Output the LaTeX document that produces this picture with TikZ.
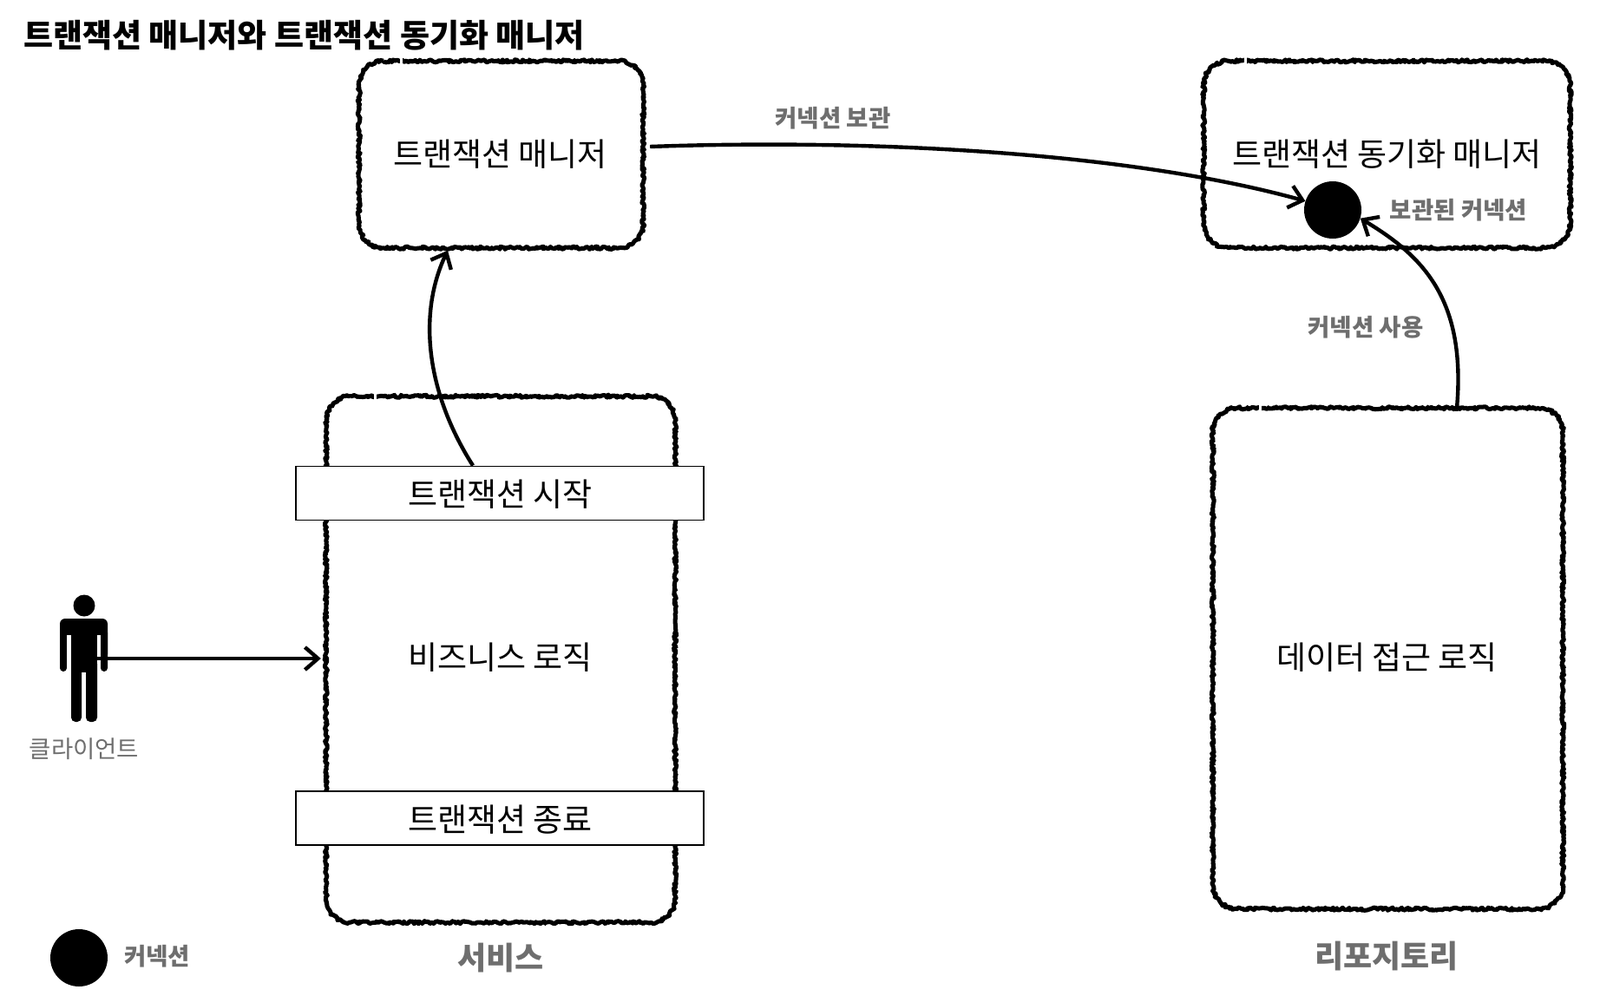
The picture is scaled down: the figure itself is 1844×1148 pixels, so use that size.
\documentclass[tikz,border=0pt]{standalone}
\usepackage{fontspec}
\setmainfont{Noto Sans CJK KR}
\usetikzlibrary{arrows.meta,decorations.pathmorphing}
\definecolor{lbl}{HTML}{6E6E6E}
\tikzset{
  slot/.style={inner sep=0pt},
  rough/.style={line width=2.6pt,draw=black,line join=round,
    decorate,decoration={random steps,segment length=1.8pt,amplitude=1.6pt},
    preaction={draw=black,line width=5pt,line join=round}},
  bigtext/.style={font=\fontsize{37}{40}\selectfont,text=black,inner sep=0pt},
  small/.style={font=\fontsize{27.5}{32}\selectfont\bfseries,text=lbl,inner sep=0pt},
  head/.style={font=\fontsize{36}{40}\selectfont\bfseries,text=lbl,inner sep=0pt},
  band/.style={draw=black,fill=white,line width=1.8pt,minimum width=470pt,minimum height=62pt,inner sep=0pt},
  conn/.style={circle,fill=black,minimum size=66pt,inner sep=0pt},
  link/.style={line width=4.4pt,-{Straight Barb[length=15pt,width=26pt,line width=4.4pt]}},
  nick/.style={fill=white,minimum width=3pt,minimum height=11pt,inner sep=0pt},
}
\newcommand{\roughbox}[1]{%
  \draw[rough] ([xshift=28pt]#1.north west) -- ([xshift=-28pt]#1.north east)
    arc[start angle=90,end angle=0,radius=28pt] -- ([yshift=28pt]#1.south east)
    arc[start angle=0,end angle=-90,radius=28pt] -- ([xshift=28pt]#1.south west)
    arc[start angle=-90,end angle=-180,radius=28pt] -- ([yshift=-28pt]#1.north west)
    arc[start angle=180,end angle=90,radius=28pt] -- cycle;}
\begin{document}
\begin{tikzpicture}[x=1pt,y=-1pt]
\useasboundingbox (0,0) rectangle (1844,1148);
\node[anchor=west,font=\fontsize{37}{40}\selectfont\bfseries,inner sep=0pt] (title) at (27,41) {트랜잭션 매니저와 트랜잭션 동기화 매니저};
% boxes
\node[slot,minimum width=327pt,minimum height=215pt] (tm) at (577.5,178) {};
\node[slot,minimum width=422pt,minimum height=215pt] (tsm) at (1598.5,178) {};
\node[slot,minimum width=402pt,minimum height=606pt] (svc) at (577,760) {};
\node[slot,minimum width=403pt,minimum height=577pt] (repo) at (1599.5,759) {};
\roughbox{tm}
\roughbox{tsm}
\roughbox{svc}
\roughbox{repo}
\node[nick] (n1) at (462,71) {};
\node[nick] (n2) at (1435,71) {};
\node[nick] (n3) at (432,457) {};
\node[nick] (n4) at (1452,471) {};
\node[band] (txs) at (576,568.5) {};
\node[band] (txe) at (576,943) {};
% circle
\node[conn] (c1) at (1536,242) {};
\node[conn] (c2) at (91,1104) {};
% texts
\node[bigtext] (ttm) at (576.5,178) {트랜잭션 매니저};
\node[bigtext] (ttsm) at (1598.5,178) {트랜잭션 동기화 매니저};
\node[bigtext] (ttxs) at (576.5,570) {트랜잭션 시작};
\node[bigtext] (ttxe) at (576.5,945) {트랜잭션 종료};
\node[bigtext] (tbiz) at (576.5,758) {비즈니스 로직};
\node[bigtext] (tdata) at (1598.5,758) {데이터 접근 로직};
\node[small] (lhold) at (960,136) {커넥션 보관};
\node[small] (lheld) at (1681,242) {보관된 커넥션};
\node[small] (luse) at (1574,377) {커넥션 사용};
\node[small] (lc) at (181,1102) {커넥션};
\node[head] (lsvc) at (577,1104) {서비스};
\node[head] (lrepo) at (1598,1102) {리포지토리};
\node[font=\fontsize{27.5}{32}\selectfont,text=lbl,inner sep=0pt] (lcl) at (97,863) {클라이언트};
% person
\fill (97,698) circle (12.5);
\fill[rounded corners=6pt] (69,760) -- (69,713) -- (124,713) -- (124,760) -- cycle;
\fill[rounded corners=4pt] (69,725) rectangle (77,774);
\fill[rounded corners=4pt] (116,725) rectangle (124,774);
\fill[white] (77,732) rectangle (82,775);
\fill[white] (112,732) rectangle (116,775);
\fill[white] (77,740) rectangle (116,775);
\fill (82,725) rectangle (112,775);
\fill[rounded corners=5pt] (82,760) rectangle (94,832);
\fill[rounded corners=5pt] (99,760) rectangle (112,832);
\coordinate (pers) at (112,759);
% connectors
\draw[link] (pers) -- ([xshift=-6pt]svc.west |- pers);
\draw[link] (txs.north -| 545,537) .. controls (490,450) and (482,360) .. ([yshift=-3pt]tm.south -| 516,288);
\draw[link] ([shift={(8pt,9pt)}]tm.east) .. controls (1000,160) and (1300,175) .. (c1.162);
\draw[link] (repo.north -| 1679,468) .. controls (1690,345) and (1640,295) .. (c1.-17);
\end{tikzpicture}
\end{document}
